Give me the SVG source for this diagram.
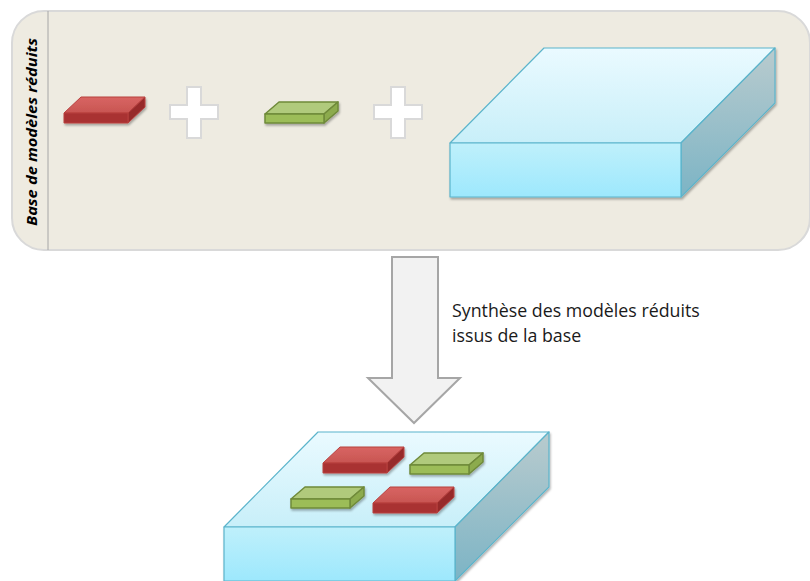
<svg xmlns="http://www.w3.org/2000/svg" xmlns:xlink="http://www.w3.org/1999/xlink" width="810" height="581" viewBox="0 0 810 581">
<style>
.panel{fill:#eeebe1;stroke:#d9d9d9;stroke-width:2}
.divider{stroke:#a6a6a6;stroke-width:1}
.plus{fill:#ffffff;stroke:#d9d9d9;stroke-width:2}
.arrow{fill:#f2f2f2;stroke:#a6a6a6;stroke-width:2}
.lbl{font-family:"Open Sans","Liberation Sans",sans-serif;font-size:17.8px;fill:#1a1a1a}
.vlbl{font-family:"Open Sans","Liberation Sans",sans-serif;font-size:14.5px;font-weight:bold;font-style:italic;fill:#000}
.bigedge{stroke:#5bb4cb;stroke-width:1.2;stroke-linejoin:round}
.rededge{stroke:#b8403f;stroke-width:1;stroke-linejoin:round}
.grnedge{stroke:#6f8a3a;stroke-width:1.5;stroke-linejoin:round}
</style>
<defs>
<linearGradient id="gTop" x1="0" y1="0" x2="0" y2="1"><stop offset="0" stop-color="#eafaff"/><stop offset="1" stop-color="#c8eff9"/></linearGradient>
<linearGradient id="gFront" x1="0" y1="0" x2="0" y2="1"><stop offset="0" stop-color="#bff0fb"/><stop offset="1" stop-color="#9de8fd"/></linearGradient>
<linearGradient id="gSide" x1="0" y1="0" x2="0" y2="1"><stop offset="0" stop-color="#b9cbce"/><stop offset="1" stop-color="#7cb4c5"/></linearGradient>
<linearGradient id="rTop" x1="0" y1="0" x2="0" y2="1"><stop offset="0" stop-color="#d86563"/><stop offset="1" stop-color="#c85552"/></linearGradient>
<filter id="sh" x="-20%" y="-20%" width="140%" height="160%"><feDropShadow dx="1" dy="2" stdDeviation="1.2" flood-color="#000" flood-opacity="0.3"/></filter>
<g id="bigbox">
<path class="bigedge" fill="url(#gTop)" d="M0,0 L94,-95 L325,-95 L231,0 Z"/>
<path class="bigedge" fill="url(#gSide)" d="M231,0 L325,-95 L325,-40 L231,54 Z"/>
<rect class="bigedge" fill="url(#gFront)" x="0" y="0" width="231" height="54"/>
</g>
<g id="redbox">
<path class="rededge" fill="url(#rTop)" d="M0,0 L17,-16 L81,-16 L64,0 Z"/>
<path class="rededge" fill="#962b2b" d="M64,0 L81,-16 L81,-6 L64,10 Z"/>
<rect class="rededge" fill="#a93333" x="0" y="0" width="64" height="10"/>
</g>
<g id="grnbox">
<path class="grnedge" fill="#b0ca7c" d="M0,0 L14,-12 L73,-12 L59,0 Z"/>
<path class="grnedge" fill="#8cab4e" d="M59,0 L73,-12 L73,-3 L59,9 Z"/>
<rect class="grnedge" fill="#9cbd58" x="0" y="0" width="59" height="9"/>
</g>
</defs>

<g id="panel">
<rect class="panel" x="12" y="11" width="798" height="239" rx="32" ry="32"/>
<line class="divider" x1="48" y1="11" x2="48" y2="250"/>
<text class="vlbl" transform="translate(37,132) rotate(-90)" text-anchor="middle" textLength="188" lengthAdjust="spacingAndGlyphs">Base de modèles réduits</text>
</g>

<g id="red-model" filter="url(#sh)"><use xlink:href="#redbox" x="64" y="113"/></g>
<g id="plus-1"><path class="plus" d="M187,87 H201 V105 H218 V119 H201 V138 H187 V119 H170 V105 H187 Z"/></g>
<g id="green-model" filter="url(#sh)"><use xlink:href="#grnbox" x="265" y="114"/></g>
<g id="plus-2"><path class="plus" d="M391,87 H405 V105 H422 V119 H405 V138 H391 V119 H374 V105 H391 Z"/></g>
<g id="blue-model" filter="url(#sh)"><use xlink:href="#bigbox" x="450" y="143"/></g>

<g id="connectors">
<path class="arrow" d="M392,257 H438 V378 H460 L414,423 L368,378 H392 Z"/>
<text class="lbl" x="452" y="317">Synthèse des modèles réduits</text>
<text class="lbl" x="452" y="342">issus de la base</text>
</g>

<g id="synthesized-model">
<g filter="url(#sh)"><use xlink:href="#bigbox" x="224" y="527"/></g>
<g filter="url(#sh)">
<use xlink:href="#redbox" x="323" y="463"/>
<use xlink:href="#grnbox" x="410" y="465"/>
<use xlink:href="#grnbox" x="291" y="499"/>
<use xlink:href="#redbox" x="373" y="503"/>
</g>
</g>
</svg>
